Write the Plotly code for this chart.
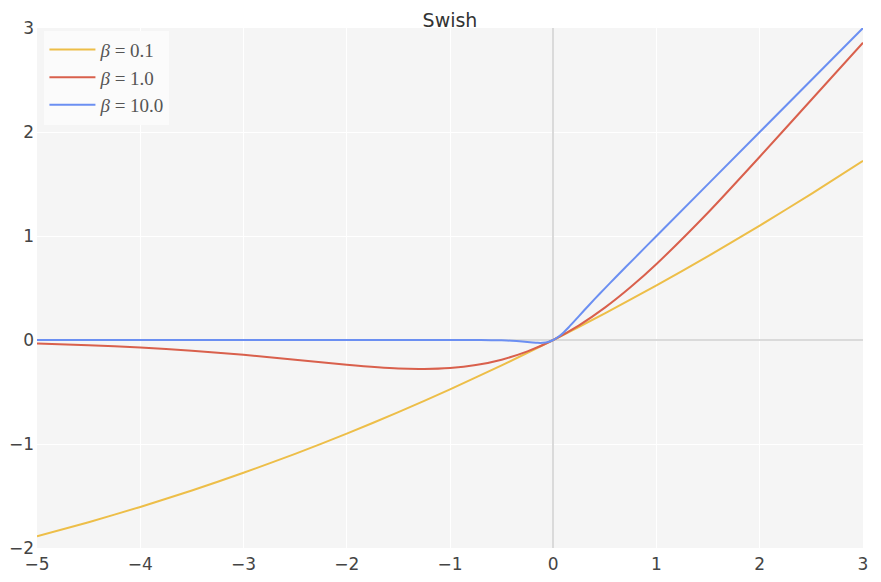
import plotly.graph_objects as go

# Values
x_b01 = [-5, -4.5, -4, -3.5, -3, -2.5, -2, -1.5, -1, -0.5, 0, 0.5, 1, 1.5, 2, 2.5, 3]
y_b01 = [-1.888, -1.752, -1.605, -1.447, -1.277, -1.095, -0.900, -0.694, -0.475, -0.244, 0.0,
         0.256, 0.525, 0.806, 1.100, 1.406, 1.723]

x_b1 = [-5, -4.5, -4, -3.5, -3, -2.5, -2, -1.5, -1.25, -1, -0.75, -0.5, -0.25, 0, 0.25, 0.5, 0.75,
        1, 1.5, 2, 2.5, 3]
y_b1 = [-0.034, -0.050, -0.072, -0.103, -0.142, -0.190, -0.238, -0.274, -0.278, -0.269, -0.241,
        -0.189, -0.110, 0.0, 0.141, 0.311, 0.509, 0.731, 1.226, 1.762, 2.310, 2.858]

x_b10 = [-5, -3, -1, -0.8, -0.6, -0.5, -0.4, -0.3, -0.2, -0.15, -0.1, -0.05, 0, 0.05, 0.1, 0.15,
         0.2, 0.3, 0.4, 0.5, 0.6, 0.8, 1, 2, 3]
y_b10 = [0.0, 0.0, 0.0, -0.0003, -0.0015, -0.0033, -0.0072, -0.0142, -0.0238, -0.0274, -0.0269,
         -0.0189, 0.0, 0.0311, 0.0731, 0.1226, 0.1762, 0.2858, 0.3928, 0.4967, 0.5985, 0.7997,
         1.0, 2.0, 3.0]

names = ["<i>β</i> = 0.1", "<i>β</i> = 1.0", "<i>β</i> = 10.0"]
colors = ["#EDBE48", "#D9604C", "#6B8FF2"]
tick_x = [-5, -4, -3, -2, -1, 0, 1, 2, 3]
tick_y = [-2, -1, 0, 1, 2, 3]

fig = go.Figure()
for xs, ys, nm, c in zip([x_b01, x_b1, x_b10], [y_b01, y_b1, y_b10], names, colors):
    fig.add_trace(go.Scatter(x=xs, y=ys, mode="lines", name=nm,
                             line=dict(color=c, width=2, shape="spline", smoothing=0.6)))

fig.update_layout(
    width=865, height=566,
    margin=dict(l=29, r=10, t=20, b=26, autoexpand=False),
    paper_bgcolor="white",
    plot_bgcolor="#F5F5F5",
    title=dict(text="Swish", x=0.5, xanchor="center", xref="paper",
               y=0.979, yanchor="middle", yref="container",
               font=dict(family="DejaVu Sans", size=19, color="#333333")),
    font=dict(family="DejaVu Sans", size=17, color="#444444"),
    showlegend=True,
    legend=dict(x=0.009, y=0.995, xanchor="left", yanchor="top",
                bgcolor="rgba(251,251,251,0.95)", borderwidth=0,
                font=dict(family="Liberation Serif", size=19, color="#555555"),
                tracegroupgap=0, itemwidth=46),
)
fig.update_xaxes(range=[-5, 3], tickvals=tick_x,
                 ticktext=[str(v).replace("-", "−") for v in tick_x],
                 showgrid=True, gridcolor="white", gridwidth=1.2,
                 zeroline=True, zerolinecolor="#DADADA", zerolinewidth=2,
                 showline=False, ticks="", ticklen=0, ticklabelstandoff=4)
fig.update_yaxes(range=[-2, 3], tickvals=tick_y,
                 ticktext=[str(v).replace("-", "−") for v in tick_y],
                 showgrid=True, gridcolor="white", gridwidth=1.2,
                 zeroline=True, zerolinecolor="#DADADA", zerolinewidth=2,
                 showline=False, ticks="", ticklen=0, ticklabelstandoff=2)

fig.write_html("out.html")
